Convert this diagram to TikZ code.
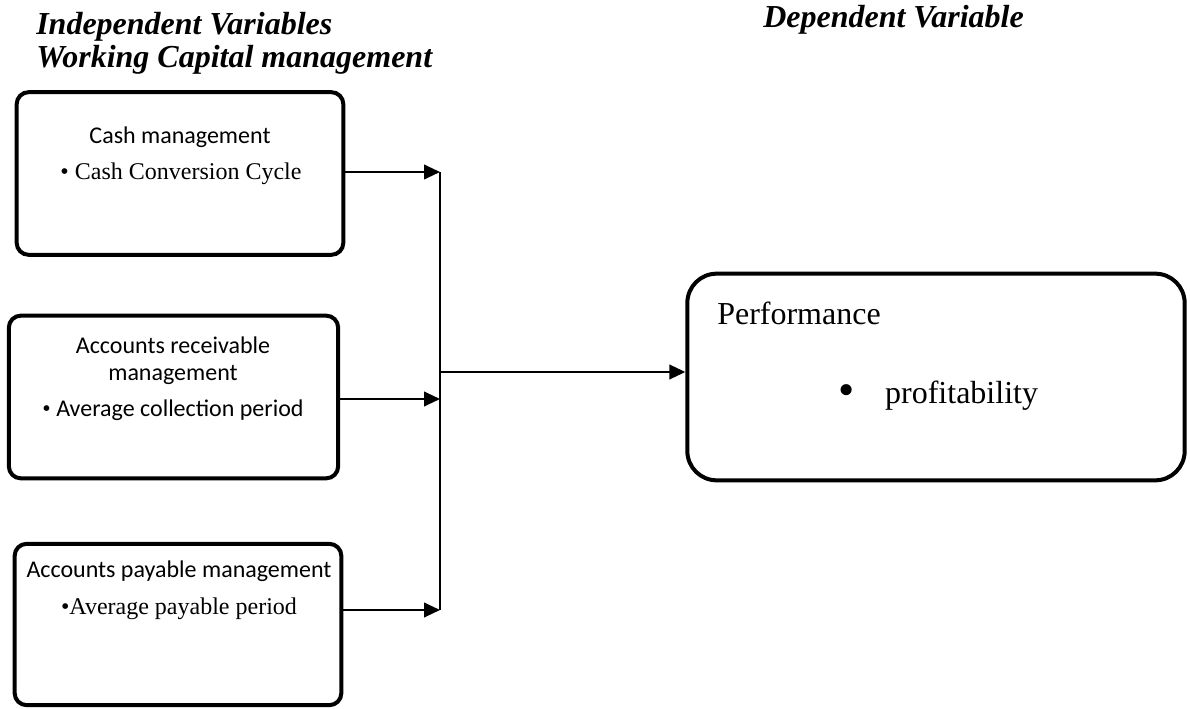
\documentclass[tikz,border=0pt]{standalone}
\usepackage{fontspec}
\setmainfont{Liberation Serif}
\newfontfamily\calibri{Carlito}
\usetikzlibrary{arrows.meta}
\tikzstyle{Box} = [draw, rectangle, rounded corners=9pt, line width=3pt, inner sep=0pt]
\tikzstyle{Sans} = [font=\calibri\fontsize{18}{21}\selectfont, anchor=base, inner sep=0pt]
\tikzstyle{Serif} = [font=\fontsize{18}{21}\selectfont, anchor=base, inner sep=0pt]
\tikzstyle{Head} = [font=\bfseries\itshape\fontsize{24}{28}\selectfont, anchor=base west, inner sep=0pt]
\tikzstyle{Big} = [font=\fontsize{24}{28}\selectfont, anchor=base west, inner sep=0pt]
\tikzstyle{Arrow} = [line width=1.5pt, -{Triangle[length=12pt,width=11pt]}]
\tikzstyle{Line} = [line width=1.1pt]

\begin{document}
\begin{tikzpicture}[x=0.75pt,y=-0.75pt]
    \useasboundingbox (0,0) rectangle (1190,709);
    % headings
    \node[Head] (indep) at (36,35)  {Independent Variables};
    \node[Head] (wcm)   at (36,68)  {Working Capital management};
    \node[Head] (dep)   at (763,28) {Dependent Variable};

    % independent variables
    \node[Box, minimum width=245pt, minimum height=122pt] (cash) at (180,173.5) {};
    \node[Sans]  (cashtitle) at (180,144) {Cash management};
    \node[Serif] (ccc)       at (181,180) {\textbullet{} Cash Conversion Cycle};

    \node[Box, minimum width=247pt, minimum height=122pt] (recv) at (173.5,397) {};
    \node[Sans] (recvtitle) at (173,354) {Accounts receivable};
    \node[Sans] (recvsub)   at (173,381) {management};
    \node[Sans] (acp)       at (173,417) {{\rmfamily\textbullet} Average collection period};

    \node[Box, minimum width=245pt, minimum height=121pt] (pay) at (178,624.5) {};
    \node[Sans]  (paytitle) at (179,577) {Accounts payable management};
    \node[Serif] (app)      at (179,614) {\textbullet Average payable period};

    % dependent variable
    \node[Box, rounded corners=22pt, minimum width=373pt, minimum height=155pt] (perf) at (936,377) {};
    \node[Big] (perftitle) at (717,325) {Performance};
    \node[Big] (profit)    at (838,404) {\raisebox{-1.5pt}{\scalebox{1.45}{\textbullet}}\hspace{23pt}profitability};

    % connectors
    \coordinate (in1) at (440,172);
    \coordinate (in2) at (440,399);
    \coordinate (in3) at (440,610);
    \coordinate (out) at (440,372);
    \draw[Arrow] (cash.east |- in1) to (in1);
    \draw[Arrow] (recv.east |- in2) to (in2);
    \draw[Arrow] (pay.east |- in3)  to (in3);
    \draw[Line]  (in1) to (in3);
    \draw[Arrow] (out) to (perf.west |- out);
\end{tikzpicture}
\end{document}
